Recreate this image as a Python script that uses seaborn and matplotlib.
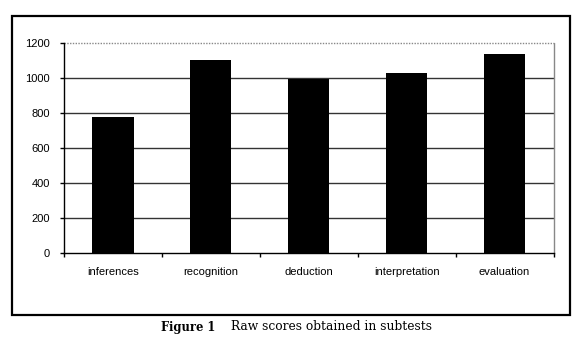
import matplotlib
matplotlib.use("Agg")
import matplotlib.pyplot as plt
import seaborn as sns
import pandas as pd
from matplotlib.patches import Rectangle
from matplotlib.ticker import FixedLocator

categories = ["inferences", "recognition", "deduction", "interpretation", "evaluation"]
scores = [775, 1105, 997, 1027, 1135]
yticks = [0, 200, 400, 600, 800, 1000, 1200]

sns.set_theme(style="white")
plt.rcParams["font.family"] = ["Liberation Sans", "DejaVu Sans"]

W, H = 579, 358
fig = plt.figure(figsize=(W / 100, H / 100), dpi=100)
fig.patch.set_facecolor("white")

def fx(px):
    return px / W

def fy(py):
    return 1 - py / H

left, right, top, bottom = 64, 553.5, 43, 253
ax = fig.add_axes([fx(left), fy(bottom), fx(right) - fx(left), fy(top) - fy(bottom)])

df = pd.DataFrame({"category": categories, "score": scores})
sns.barplot(data=df, x="category", y="score", color="black", width=0.42,
            saturation=1, ax=ax, edgecolor="black", linewidth=0, zorder=3)

ax.set_ylim(0, 1200)
ax.set_xlim(-0.5, len(categories) - 0.5)
ax.set_yticks(yticks)
ax.set_yticklabels([str(v) for v in yticks], fontsize=8, color="black")
ax.set_xticks(range(len(categories)))
ax.set_xticklabels(categories, fontsize=8, color="black")
ax.set_xlabel("")
ax.set_ylabel("")

# gridlines
for v in yticks[1:-1]:
    ax.axhline(v, color="#333333", linewidth=1.0, zorder=1)
ax.axhline(1200, color="#888888", linewidth=1.0, linestyle=(0, (1, 1)), zorder=1, clip_on=False)

ax.spines["top"].set_visible(False)
ax.spines["right"].set_color("#888888")
ax.spines["right"].set_linestyle((0, (1, 1)))
ax.spines["right"].set_linewidth(1.0)
ax.spines["left"].set_color("black")
ax.spines["left"].set_linewidth(1.0)
ax.spines["bottom"].set_color("black")
ax.spines["bottom"].set_linewidth(1.0)

ax.tick_params(axis="y", direction="out", length=3, width=1, color="black", pad=7, left=True)
ax.tick_params(axis="x", which="major", length=0, pad=10)
ax.xaxis.set_minor_locator(FixedLocator([i - 0.5 for i in range(len(categories) + 1)]))
ax.tick_params(axis="x", which="minor", direction="out", length=3, width=1, color="black", bottom=True)

# outer frame
fig.patches.append(Rectangle((fx(12), fy(315)), fx(570) - fx(12), fy(16) - fy(315),
                             transform=fig.transFigure, fill=False, edgecolor="black",
                             linewidth=1.6, zorder=10))

# caption
fig.text(fx(161), fy(327), "Figure 1", fontsize=8.3, fontweight="bold",
         family=["DejaVu Serif"], ha="left", va="center", color="black")
fig.text(fx(231), fy(327), "Raw scores obtained in subtests", fontsize=8.8,
         family=["DejaVu Serif"], ha="left", va="center", color="black")

fig.savefig("out.png", dpi=100, facecolor="white")
